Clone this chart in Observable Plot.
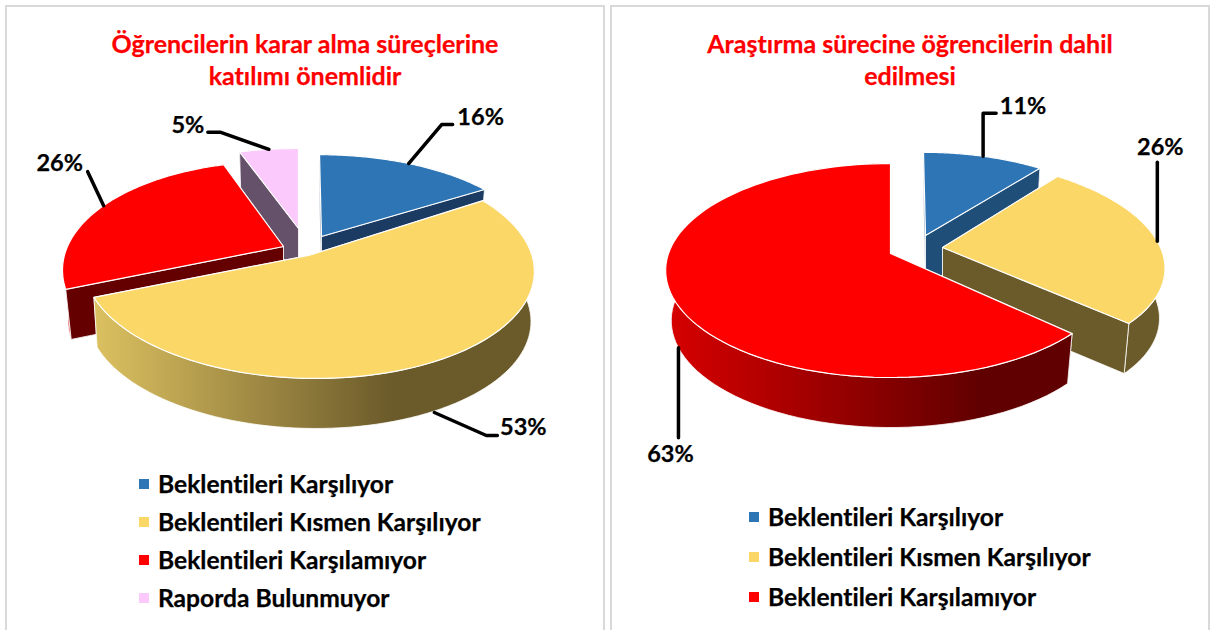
<!DOCTYPE html>
<html lang="tr">
<head>
<meta charset="utf-8">
<script src="https://cdn.jsdelivr.net/npm/d3@7"></script>
<script src="https://cdn.jsdelivr.net/npm/@observablehq/plot@0.6"></script>
<style>
html,body{margin:0;padding:0;background:#fff;width:1210px;height:630px;overflow:hidden;font-family:Lato,sans-serif;font-variant-ligatures:none}
.panel{position:absolute;top:5px;height:640px;border:2px solid #d9d9d9;box-sizing:border-box}
.title{position:absolute;color:#f00;font-weight:700;font-size:25px;line-height:32px;text-align:center;white-space:nowrap;transform:translateX(-50%);-webkit-text-stroke:.25px #f00}
.leg{position:absolute;color:#000;font-weight:700;font-size:24.6px;line-height:24px;white-space:nowrap;-webkit-text-stroke:.25px #000}
.sw{position:absolute;width:10px;height:10px}
svg{position:absolute;overflow:visible}
</style>
</head>
<body>
<script>
// ---- data ----
const titleA = ["Öğrencilerin karar alma süreçlerine", "katılımı önemlidir"];
const titleB = ["Araştırma sürecine öğrencilerin dahil", "edilmesi"];
const categoriesA = ["Beklentileri Karşılıyor", "Beklentileri Kısmen Karşılıyor", "Beklentileri Karşılamıyor", "Raporda Bulunmuyor"];
const categoriesB = ["Beklentileri Karşılıyor", "Beklentileri Kısmen Karşılıyor", "Beklentileri Karşılamıyor"];
const valuesA = [16, 53, 26, 5];
const valuesB = [11, 26, 63];
const topColors = ["#2e75b6", "#fbd767", "#ff0000", "#fbc9fb"];

// ---- drawing geometry of each exploded slice (not data) ----
const DEPTH = 50;
const geomA = [
  {ax:321,ay:236,rx:212,ry:95.7,k:.17,sh:.024,bx:.975,wall:"#1b3b62",outer:"#1b3b62",paint:1,walls:["a0","outer","a1"],
   lead:[[33,-39],[44,-39]],label:[72,-46]},
  {ax:308,ay:255,rx:223.5,ry:108.7,k:.116,sh:.06,bx:.985,wall:"#6b5a2a",outer:"url(#gradYellow)",paint:3,walls:["a0","a1","outer"],side:true,shift:[8,-1],
   lead:[[52,23],[63,23]],label:[89,15]},
  {ax:283,ay:246,rx:216,ry:106,k:.245,sh:.07,bx:.975,wall:"#640000",outer:"#e00000",paint:2,walls:["a1","outer","a0"],
   lead:[[-16,-34]],label:[-44,-42]},
  {ax:298,ay:228,rx:227,ry:96,k:.2,sh:0,bx:.975,wall:"#65516a",outer:"#65516a",paint:0,walls:["a1","outer","a0"],
   lead:[[-48,-17],[-61,-17]],label:[-81,-24]}
];
const geomB = [
  {ax:925,ay:235,rx:217,ry:104,k:.25,sh:.024,bx:.975,wall:"#1f4e79",outer:"#1f4e79",paint:0,walls:["a0","outer","a1"],
   lead:[[0,-43],[13,-43]],label:[40,-50]},
  {ax:942,ay:247,rx:218,ry:101.3,k:.128,sh:.16,bx:.975,wall:"#6b5a2a",outer:"#6b5a2a",paint:1,walls:["a0","outer","a1"],
   lead:[[0,-79]],label:[3,-94]},
  {ax:890,ay:253,rx:222,ry:104.3,k:.159,sh:0,bx:.975,wall:"#620000",outer:"url(#gradRed)",paint:2,walls:["a0","a1","outer"],side:true,
   lead:[[0,90]],label:[-8,107]}
];

function pointOn(g, deg, bottom) {
  const a = deg * Math.PI / 180, p = 1 / (1 + g.k * Math.cos(a));
  const dy = -g.ry * Math.cos(a) * p;
  const dx = g.rx * Math.sin(a) * p + g.sh * dy;
  return bottom ? {x: g.ax + dx * g.bx, y: g.ay + dy + DEPTH} : {x: g.ax + dx, y: g.ay + dy};
}
function arc(g, a0, a1, bottom) {
  return d3.range(0, 91).map(i => pointOn(g, a0 + (a1 - a0) * i / 90, bottom));
}
function slicePolys(values, geoms) {
  const total = d3.sum(values);
  let acc = 0;
  const slices = values.map((v, i) => {
    const a0 = acc / total * 360; acc += v;
    return {i, v, g: geoms[i], a0, a1: acc / total * 360};
  });
  const polys = [], leaders = [], labels = [];
  for (const s of [...slices].sort((p, q) => p.g.paint - q.g.paint)) {
    const {g, a0, a1, i} = s;
    const apexT = {x: g.ax, y: g.ay}, apexB = {x: g.ax, y: g.ay + DEPTH};
    const close = pts => [...pts, pts[0]];
    const parts = {
      outer: {pts: close([...arc(g, a0, a1), ...arc(g, a0, a1, true).reverse()]), fill: g.outer, sw: .8},
      a0: {pts: close([apexT, pointOn(g, a0), pointOn(g, a0, true), apexB]), fill: g.wall, sw: .8},
      a1: {pts: close([apexT, pointOn(g, a1), pointOn(g, a1, true), apexB]), fill: g.wall, sw: .8}
    };
    g.walls.forEach(w => polys.push(parts[w]));
    polys.push({pts: close([apexT, ...arc(g, a0, a1)]), fill: topColors[i], sw: 1.2});
  }
  slices.forEach(s => {
    const p = pointOn(s.g, (s.a0 + s.a1) / 2, s.g.side);
    const [sx, sy] = s.g.shift || [0, 0];
    const start = {x: p.x + sx, y: p.y + sy};
    leaders.push([start, ...s.g.lead.map(([dx, dy]) => ({x: start.x + dx, y: start.y + dy}))]);
    labels.push({x: start.x + s.g.label[0], y: start.y + s.g.label[1], t: s.v + "%"});
  });
  return {polys, leaders, labels};
}

function gradDefs() {
  const defs = d3.create("svg:defs");
  const add = (id, stops) => {
    const lg = defs.append("linearGradient").attr("id", id).attr("x1", 0).attr("x2", 1).attr("y1", 0).attr("y2", 0);
    stops.forEach(([o, c]) => lg.append("stop").attr("offset", o).attr("stop-color", c));
  };
  add("gradYellow", [[0, "#dcc161"], [.68, "#6b5a2a"], [1, "#6b5a2a"]]);
  add("gradRed", [[0, "#d80000"], [.78, "#600000"], [1, "#600000"]]);
  return defs.node();
}

function drawPanel(cfg) {
  const frame = document.createElement("div");
  frame.className = "panel";
  frame.style.left = cfg.x0 + "px";
  frame.style.width = cfg.w + "px";
  document.body.appendChild(frame);

  cfg.title.forEach((t, i) => {
    const d = document.createElement("div");
    d.className = "title";
    d.textContent = t;
    d.style.left = cfg.titleX + "px";
    d.style.top = (27 + i * 32) + "px";
    document.body.appendChild(d);
  });

  const top = 90, h = 380;
  const {polys, leaders, labels} = slicePolys(cfg.values, cfg.geoms);
  const svg = Plot.plot({
    width: cfg.w, height: h, margin: 0,
    x: {axis: null, domain: [cfg.x0, cfg.x0 + cfg.w], range: [0, cfg.w]},
    y: {axis: null, domain: [top, top + h], range: [0, h]},
    marks: [
      gradDefs,
      ...polys.map(p => Plot.line(p.pts, {x: "x", y: "y", fill: p.fill, stroke: "#fff", strokeWidth: p.sw, strokeLinejoin: "round"})),
      ...leaders.map(l => Plot.line(l, {x: "x", y: "y", stroke: "#000", strokeWidth: 3.5, strokeLinejoin: "round"})),
      Plot.text(labels, {x: "x", y: "y", text: "t", fontSize: 23.5, fontWeight: 700, fontFamily: "Lato", fill: "#000", stroke: "#000", strokeWidth: .25, textAnchor: "middle", lineAnchor: "middle"})
    ]
  });
  svg.style.left = cfg.x0 + "px";
  svg.style.top = top + "px";
  svg.style.background = "transparent";
  document.body.appendChild(svg);

  cfg.categories.forEach((c, i) => {
    const y = cfg.legY + i * cfg.legStep;
    const sw = document.createElement("div");
    sw.className = "sw";
    sw.style.cssText = `left:${cfg.legX}px;top:${y - 5}px;background:${topColors[i]}`;
    const tx = document.createElement("div");
    tx.className = "leg";
    tx.textContent = c;
    tx.style.left = (cfg.legX + 19) + "px";
    tx.style.top = (y - 12) + "px";
    document.body.appendChild(sw);
    document.body.appendChild(tx);
  });
}

drawPanel({x0: 5, w: 600, title: titleA, titleX: 305, values: valuesA, geoms: geomA, categories: categoriesA, legX: 139, legY: 484, legStep: 38});
drawPanel({x0: 610, w: 600, title: titleB, titleX: 910, values: valuesB, geoms: geomB, categories: categoriesB, legX: 749, legY: 517, legStep: 40});
</script>
</body>
</html>
